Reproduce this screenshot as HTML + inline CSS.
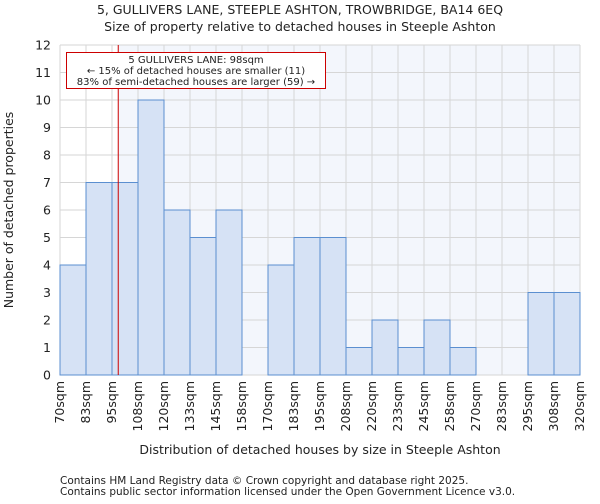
<!DOCTYPE html>
<html><head><meta charset="utf-8"><style>
body{margin:0;background:#fff;font-family:"DejaVu Sans","Liberation Sans",sans-serif;}
text{font-family:"DejaVu Sans","Liberation Sans",sans-serif;fill:#222;}
</style></head><body>
<svg id="chart" width="600" height="500" xmlns="http://www.w3.org/2000/svg">
<text x="300" y="14" font-size="12.5" text-anchor="middle">5, GULLIVERS LANE, STEEPLE ASHTON, TROWBRIDGE, BA14 6EQ</text>
<text x="300" y="31" font-size="12.5" text-anchor="middle">Size of property relative to detached houses in Steeple Ashton</text>
<g id="plot"></g>
<text x="320" y="454" font-size="12.5" text-anchor="middle">Distribution of detached houses by size in Steeple Ashton</text>
<text transform="translate(13,210) rotate(-90)" font-size="12.5" text-anchor="middle">Number of detached properties</text>
<text x="60" y="484" font-size="10.5" fill="#444">Contains HM Land Registry data © Crown copyright and database right 2025.</text>
<text x="60" y="495" font-size="10.5" fill="#444">Contains public sector information licensed under the Open Government Licence v3.0.</text>
</svg>
<script>
const binLabels=["70sqm","83sqm","95sqm","108sqm","120sqm","133sqm","145sqm","158sqm","170sqm","183sqm","195sqm","208sqm","220sqm","233sqm","245sqm","258sqm","270sqm","283sqm","295sqm","308sqm","320sqm"];
const binStarts=[70,82.5,95,107.5,120,132.5,145,157.5,170,182.5,195,207.5,220,232.5,245,257.5,270,282.5,295,307.5];
const counts=[4,7,7,10,6,5,6,0,4,5,5,1,2,1,2,1,0,0,3,3];
const yTicks=[0,1,2,3,4,5,6,7,8,9,10,11,12];
const subjectSize=98;
const NS="http://www.w3.org/2000/svg";
const L=60,R=580,T=45,B=375,xMin=70,xMax=320,yMax=12;
const xs=v=>L+(v-xMin)/(xMax-xMin)*(R-L);
const ys=v=>B-v/yMax*(B-T);
const g=document.getElementById('plot');
function mk(t,a){const e=document.createElementNS(NS,t);for(const k in a)e.setAttribute(k,a[k]);g.appendChild(e);return e;}
let e;
e=mk('rect',{x:xs(subjectSize),y:T,width:R-xs(subjectSize),height:B-T,fill:'#f3f6fc'});


binLabels.forEach((lab,i)=>{const v=xMin+i*12.5;const x=xs(v);
 e=mk('line',{x1:x,x2:x,y1:T,y2:B,stroke:'#d6d6d6','stroke-width':1});
 
 
 e=mk('text',{transform:`translate(${x+4},${B+6}) rotate(-90)`,'font-size':12.5,'text-anchor':'end'});e.textContent=lab;
 
 
});
yTicks.forEach(t=>{const y=ys(t);
 e=mk('line',{x1:L,x2:R,y1:y,y2:y,stroke:'#d6d6d6','stroke-width':1});
 
 
 e=mk('text',{x:L-9,y:y+4.5,'font-size':12.5,'text-anchor':'end'});e.textContent=t;
 
 
});
counts.forEach((c,i)=>{if(!c)return;const x0=xs(binStarts[i]),x1=xs(binStarts[i]+12.5);
 e=mk('rect',{x:x0,y:ys(c),width:x1-x0,height:B-ys(c),fill:'#d6e2f5',stroke:'#5b8fd0','stroke-width':1});
 
 
});
const sx=xs(subjectSize);
e=mk('line',{x1:sx,x2:sx,y1:T,y2:B,stroke:'#cc0000','stroke-width':1});


e=mk('rect',{x:66.5,y:52.5,width:259,height:36,fill:'#fff',stroke:'#cc0000','stroke-width':1});


[["5 GULLIVERS LANE: 98sqm",63],["← 15% of detached houses are smaller (11)",74],["83% of semi-detached houses are larger (59) →",85]].forEach(([s,y])=>{
 e=mk('text',{x:196,y:y,'font-size':10,'text-anchor':'middle'});e.textContent=s;
 
 
});
</script>
</body></html>
